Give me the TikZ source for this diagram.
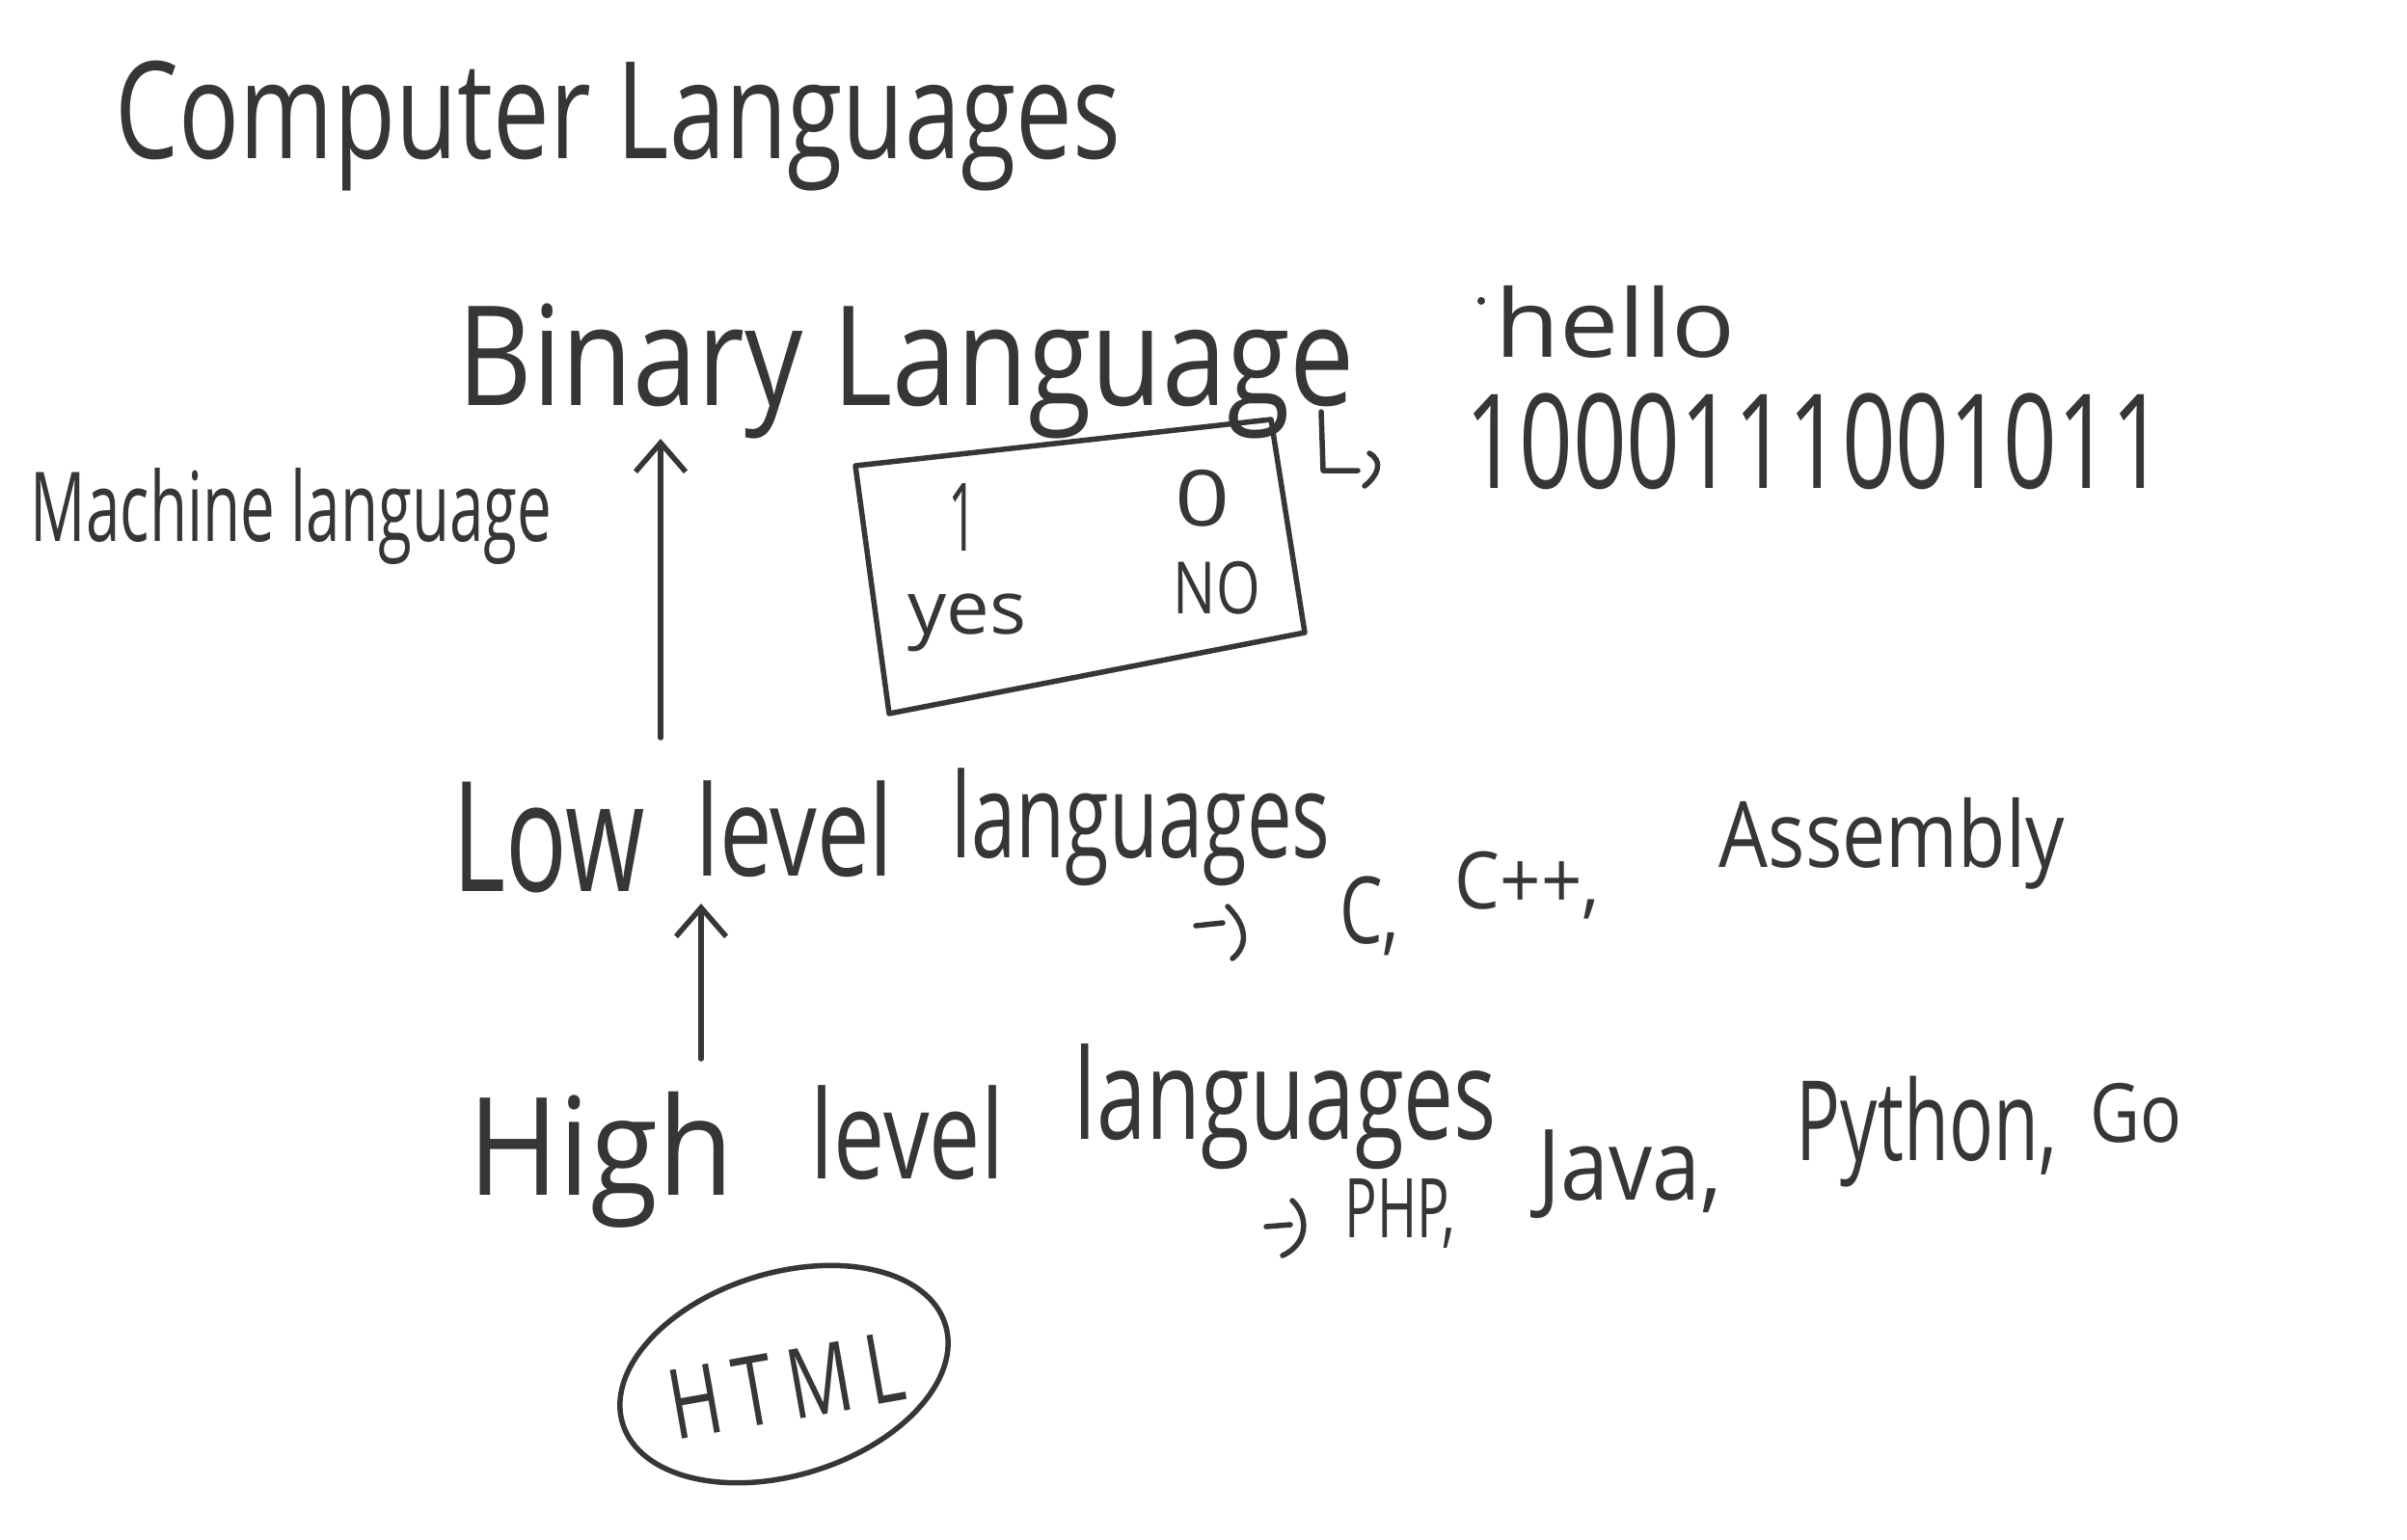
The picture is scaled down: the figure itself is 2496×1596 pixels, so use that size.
\documentclass[tikz,border=0pt]{standalone}
\usepackage{fontspec}
\setmainfont{Open Sans}
\usetikzlibrary{arrows.meta,shapes.geometric}
\definecolor{ink}{HTML}{363636}
\newcommand{\hwt}[3]{\resizebox*{#1pt}{#2pt}{#3}}
\begin{document}
\begin{tikzpicture}[x=1pt,y=-1pt,line width=5.5pt,line cap=round,line join=round,draw=ink,
  txt/.style={inner sep=0pt,text=ink},
  uparrow/.style={-{Straight Barb[length=30pt,width=52pt]}}]
\fill[white] (0,0) rectangle (2496,1596);
\useasboundingbox (0,0) rectangle (2496,1596);
% title
\node[txt] (title) at (641,131) {\hwt{1042}{135}{Computer Languages}};
% binary language
\node[txt] (binary) at (940,385) {\hwt{930}{140}{Binary Language}};
\fill[ink] (1536,312) circle (4);
\node[txt] (hello) at (1675,334) {\hwt{250}{75}{hello}};
% hooked arrow
\coordinate (hk1) at (1370,427);
\coordinate (hk2) at (1372,488);
\coordinate (hk3) at (1408,488);
\coordinate (hk4) at (1420,470);
\coordinate (hk6) at (1415,504);
\draw (hk1) -- (hk2) -- (hk3);
\draw (hk4) .. controls (1434,478) and (1430,492) .. (hk6);
\node[txt] (bits) at (1882,458) {\hwt{725}{100}{1000111001011}};
% machine language
\node[txt] (machine) at (302,535) {\hwt{540}{100}{Machine language}};
% arrow 1
\coordinate (a1s) at (685,765);
\coordinate (a1e) at (685,455);
\draw[uparrow] (a1s) -- (a1e);
% box
\coordinate (b1) at (887,483);
\coordinate (b2) at (1318,435);
\coordinate (b3) at (1353,656);
\coordinate (b4) at (922,740);
\draw (b1) -- (b2) -- (b3) -- (b4) -- cycle;
\node[txt] (one) at (998,536) {\hwt{30}{70}{1}};
\node[txt] (zero) at (1247,517) {\hwt{57}{59}{0}};
\node[txt] (yes) at (1003,646) {\hwt{123}{60}{yes}};
\node[txt] (no) at (1262,610) {\hwt{90}{55}{NO}};
% low level
\node[txt] (low1) at (569,869) {\hwt{199}{115}{Low}};
\node[txt] (low2) at (824,860) {\hwt{205}{100}{level}};
\node[txt] (low3) at (1183,858) {\hwt{393}{122}{languages}};
\coordinate (a2s) at (727,1098);
\coordinate (a2e) at (727,937);
\draw[uparrow] (a2s) -- (a2e);
\coordinate (c1) at (1240,960);
\coordinate (c2) at (1268,957);
\coordinate (c3) at (1273,940);
\coordinate (c4) at (1278,994);
\draw (c1) -- (c2);
\draw (c3) .. controls (1295,962) and (1293,982) .. (c4);
\node[txt] (cl1) at (1420,950) {\hwt{62}{82}{C,}};
\node[txt] (cl2) at (1584,918) {\hwt{150}{70}{C++,}};
\node[txt] (cl3) at (1962,875) {\hwt{358}{95}{Assembly}};
% high level
\node[txt] (high1) at (623,1203) {\hwt{275}{141}{High}};
\node[txt] (high2) at (941,1175) {\hwt{200}{98}{level}};
\node[txt] (high3) at (1333,1148) {\hwt{438}{130}{languages}};
\coordinate (p1) at (1313,1272);
\coordinate (p2) at (1338,1270);
\coordinate (p3) at (1340,1245);
\coordinate (p4) at (1330,1302);
\draw (p1) -- (p2);
\draw (p3) .. controls (1358,1262) and (1356,1290) .. (p4);
\node[txt] (hl1) at (1452,1258) {\hwt{115}{72}{PHP,}};
\node[txt] (hl2) at (1690,1218) {\hwt{191}{92}{Java,}};
\node[txt] (hl3) at (1998,1174) {\hwt{270}{115}{Python,}};
\node[txt] (hl4) at (2215,1154) {\hwt{95}{62}{Go}};
% HTML
\node[ellipse,draw,rotate=17,inner sep=0pt,minimum width=350pt,minimum height=210pt] (html) at (813,1425) {};
\node[txt,rotate=10] (htmltxt) at (815,1437) {\hwt{245}{72}{H\hspace{0.2em}T\hspace{0.2em}M\hspace{0.2em}L}};
\end{tikzpicture}
\end{document}
